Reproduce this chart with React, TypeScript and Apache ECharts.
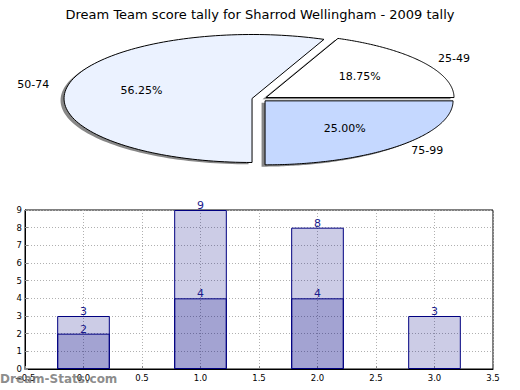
import React, { useEffect, useRef } from "react";
import * as echarts from "echarts";

const titleText = "Dream Team score tally for Sharrod Wellingham - 2009 tally";
const pieLabels = ["25-49", "50-74", "75-99"];
const pieValues = [3, 9, 4];
const pieColors = ["#FFFFFF", "#EBF2FF", "#C5D8FF"];
const barCategories = ["0", "1", "2", "3"];
const totalValues = [3, 9, 8, 3];
const partValues = [2, 4, 4, null];
const watermark = "Dream-Stats.com";

const FONT = "DejaVu Sans";

export default function App() {
  const ref = useRef<HTMLDivElement>(null);
  useEffect(() => {
    if (!ref.current) return;
    const chart = echarts.init(ref.current, null, { renderer: "svg" });
    const total = pieValues.reduce((a, b) => a + b, 0);
    const starts: number[] = [];
    let acc = 0;
    pieValues.forEach((v) => {
      starts.push(acc);
      acc += v;
    });
    const cx = 259.6, cy = 99, rx = 188, ry = 64, explode = 0.041;
    const shadowDx = -3.5, shadowDy = 1.8;

    const renderPie = (params: any, api: any) => {
      const i = params.dataIndex;
      const v = api.value(0);
      const a1 = (starts[i] / total) * Math.PI * 2;
      const a2 = ((starts[i] + v) / total) * Math.PI * 2;
      const am = (a1 + a2) / 2;
      const ox = cx + explode * rx * Math.cos(am);
      const oy = cy - explode * ry * Math.sin(am);
      const pts: number[][] = [[ox, oy]];
      const n = 120;
      for (let k = 0; k <= n; k++) {
        const t = a1 + ((a2 - a1) * k) / n;
        pts.push([ox + rx * Math.cos(t), oy - ry * Math.sin(t)]);
      }
      const shadowPts = pts.map((p) => [p[0] + shadowDx, p[1] + shadowDy]);
      const lx = ox + 1.1 * rx * Math.cos(am);
      const ly = oy - 1.1 * ry * Math.sin(am);
      const px = ox + 0.6 * rx * Math.cos(am);
      const py = oy - 0.6 * ry * Math.sin(am);
      const pct = ((v / total) * 100).toFixed(2) + "%";
      return {
        type: "group",
        children: [
          {
            type: "polygon",
            shape: { points: shadowPts },
            style: { fill: "rgba(70,70,70,0.65)" },
            z2: 0,
          },
          {
            type: "polygon",
            shape: { points: pts },
            style: { fill: pieColors[i], stroke: "#000", lineWidth: 1 },
            z2: 10,
          },
          {
            type: "text",
            x: px,
            y: py,
            z2: 20,
            style: {
              text: pct,
              fill: "#000",
              font: `11px "${FONT}"`,
              align: "center",
              verticalAlign: "middle",
            },
          },
          {
            type: "text",
            x: lx,
            y: ly,
            z2: 20,
            style: {
              text: pieLabels[i],
              fill: "#000",
              font: `11px "${FONT}"`,
              align: lx > cx ? "left" : "right",
              verticalAlign: "middle",
            },
          },
        ],
      };
    };

    const tickLabel = { fontSize: 8.5, color: "#000", fontFamily: FONT };
    const barLabel = {
      show: true,
      position: "top",
      distance: -1,
      color: "#1a1a8c",
      fontSize: 11,
      fontFamily: FONT,
    };

    chart.setOption({
      animation: false,
      backgroundColor: "#fff",
      title: {
        text: titleText,
        left: "center",
        top: 3,
        textStyle: { fontSize: 13, fontWeight: "normal", color: "#000", fontFamily: FONT },
      },
      grid: {
        left: 25,
        right: 27,
        top: 210,
        bottom: 21,
        show: true,
        borderColor: "#000",
        borderWidth: 1,
        backgroundColor: "transparent",
      },
      xAxis: [
        {
          type: "value",
          min: -0.5,
          max: 3.5,
          interval: 0.5,
          axisLine: { onZero: false, lineStyle: { color: "#000" } },
          axisTick: { inside: true, length: 3, lineStyle: { color: "#888" } },
          axisLabel: {
            ...tickLabel,
            margin: 4,
            formatter: (v: number) => (v < 0 ? "\u2212" + Math.abs(v).toFixed(1) : v.toFixed(1)),
          },
          splitLine: { show: true, lineStyle: { color: "#b0b0b0", type: [1, 2] } },
        },
        {
          type: "category",
          data: barCategories,
          boundaryGap: true,
          show: false,
        },
      ],
      yAxis: {
        type: "value",
        min: 0,
        max: 9,
        interval: 1,
        axisLine: { show: true, onZero: false, lineStyle: { color: "#000" } },
        axisTick: { show: true, inside: true, length: 3, lineStyle: { color: "#888" } },
        axisLabel: { ...tickLabel, margin: 3 },
        splitLine: { show: true, lineStyle: { color: "#b0b0b0", type: [1, 2] } },
      },
      graphic: [
        {
          type: "text",
          left: 0,
          top: 373,
          z: 100,
          style: {
            text: watermark,
            fill: "rgba(110,110,110,0.8)",
            font: `bold 12px "${FONT}"`,
          },
        },
      ],
      series: [
        {
          type: "custom",
          coordinateSystem: "none",
          renderItem: renderPie,
          data: pieValues.map((v, i) => ({ value: v, name: pieLabels[i] })),
          silent: true,
        },
        {
          type: "bar",
          xAxisIndex: 1,
          data: totalValues,
          barWidth: "45%",
          barGap: "-100%",
          itemStyle: { color: "rgba(0,0,128,0.2)", borderColor: "#000080", borderWidth: 1 },
          label: barLabel,
        },
        {
          type: "bar",
          xAxisIndex: 1,
          data: partValues,
          barWidth: "45%",
          barGap: "-100%",
          itemStyle: { color: "rgba(0,0,128,0.2)", borderColor: "#000080", borderWidth: 1 },
          label: barLabel,
        },
      ],
    });
    return () => chart.dispose();
  }, []);
  return (
    <div
      ref={ref}
      style={{ position: "fixed", left: 0, top: 0, width: 520, height: 390 }}
    />
  );
}
